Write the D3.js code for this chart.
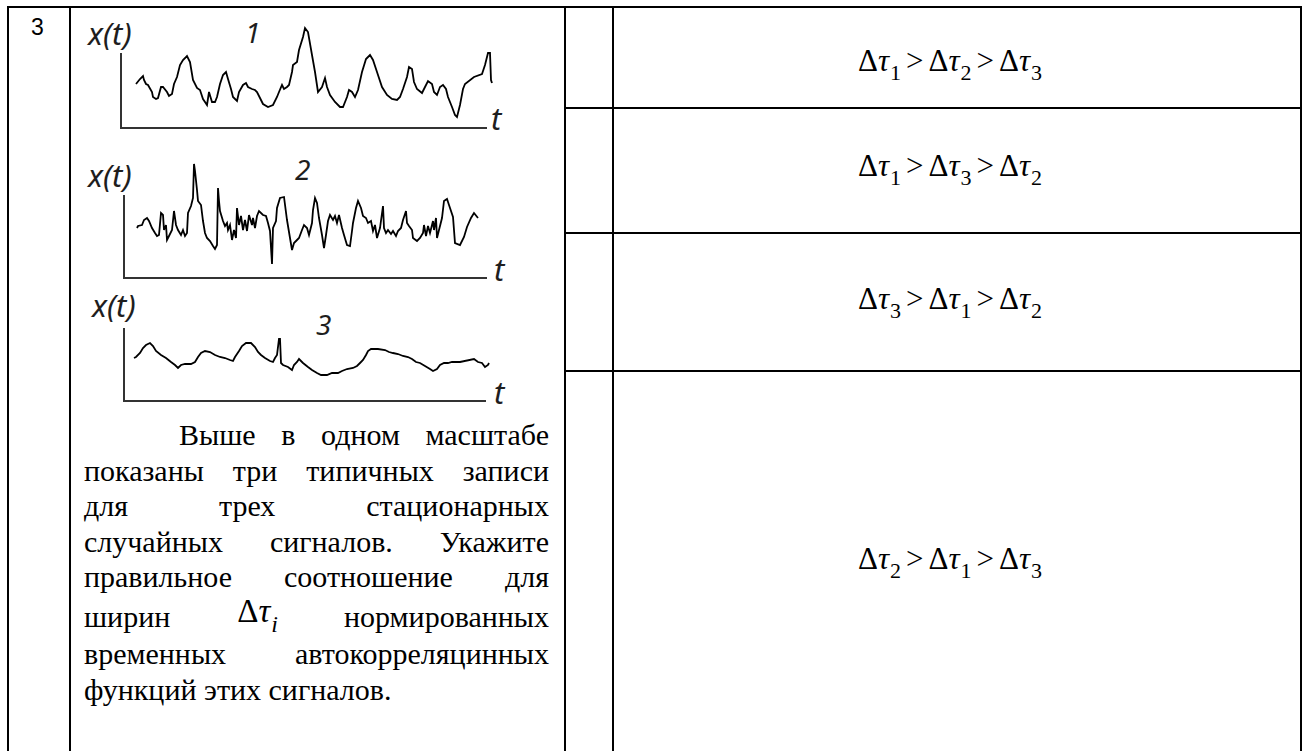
<!DOCTYPE html>
<meta charset="utf-8">
<style>
body { margin: 0; background: #fff; }
.grid line { stroke: #000; stroke-width: 2px; }
.axis line { stroke: #333; stroke-width: 2px; }
.signal { fill: none; stroke: #000; stroke-width: 1.8px; stroke-linejoin: miter; }
.lbl { font-family: "Noto Sans", "Open Sans", sans-serif; font-style: italic; fill: #1e1e1e; }
.serif { font-family: "Liberation Serif", "Times New Roman", serif; fill: #000; }
</style>

<svg width="1303" height="751"></svg>

<script src="https://d3js.org/d3.v7.min.js"></script>
<script>

// signal records: [t, x(t)]
var signal1 = [[15,44],[19,49],[22,52],[23,48],[25,44],[27,43],[31,36],[32,31],[35,29],[37,30],[40,41],[42,41],[46,36],[48,32],[51,34],[53,44],[56,51],[59,63],[62,68],[66,72],[69,66],[72,48],[76,40],[79,38],[82,29],[84,26],[86,23],[88,36],[91,26],[94,26],[96,31],[99,44],[102,53],[105,56],[107,49],[110,39],[112,31],[116,27],[118,36],[122,43],[125,45],[127,41],[131,39],[134,38],[136,36],[139,30],[142,24],[147,21],[152,23],[156,31],[158,36],[161,43],[163,39],[166,41],[168,43],[171,56],[172,63],[176,66],[178,78],[182,91],[184,100],[187,96],[191,73],[194,56],[197,36],[201,41],[204,50],[206,41],[209,33],[214,26],[219,21],[222,21],[226,31],[228,38],[231,36],[234,31],[237,38],[241,56],[245,69],[249,73],[252,68],[256,56],[261,41],[266,33],[271,29],[276,28],[279,31],[282,39],[286,51],[288,61],[291,59],[293,46],[296,39],[301,35],[304,41],[307,47],[311,44],[313,36],[316,33],[319,41],[322,43],[325,39],[327,31],[331,21],[334,13],[336,11],[339,23],[342,39],[344,44],[353,51],[361,54],[364,63],[367,75],[369,75],[370,48],[371,45]];

var signal2 = [[13,50],[14,52],[18,53],[20,58],[23,60],[25,57],[28,50],[31,45],[33,42],[35,43],[37,65],[39,63],[40,48],[42,53],[43,38],[45,42],[48,48],[50,67],[52,53],[54,48],[57,43],[59,48],[61,42],[63,45],[64,65],[67,72],[69,80],[70,114],[71,107],[73,88],[74,77],[77,73],[79,57],[81,45],[83,40],[86,37],[89,32],[91,29],[93,33],[94,90],[95,77],[96,67],[99,57],[101,52],[103,55],[104,48],[106,53],[108,38],[110,48],[112,40],[113,70],[115,53],[117,62],[119,48],[121,58],[123,47],[125,63],[128,53],[129,60],[131,50],[133,62],[135,67],[139,63],[142,62],[144,55],[146,47],[148,14],[149,50],[152,57],[153,70],[156,80],[160,81],[163,58],[166,40],[168,28],[170,35],[173,38],[175,40],[178,48],[180,53],[183,50],[185,43],[188,55],[189,68],[191,80],[193,75],[195,60],[198,43],[200,30],[202,43],[204,57],[206,63],[209,58],[211,62],[213,55],[215,63],[218,50],[220,43],[223,33],[226,32],[228,47],[229,55],[232,70],[234,77],[237,70],[239,62],[242,60],[244,55],[247,57],[249,47],[251,53],[253,40],[256,50],[259,72],[260,50],[262,45],[264,48],[267,44],[269,47],[272,42],[274,47],[277,50],[279,58],[282,67],[283,55],[285,52],[288,48],[289,40],[293,37],[296,40],[299,45],[300,53],[302,42],[304,52],[306,45],[309,57],[310,48],[312,60],[313,40],[315,48],[318,60],[320,77],[323,79],[325,73],[329,61],[331,35],[336,33],[340,41],[343,51],[347,60],[350,65],[354,60]];

var signal3 = [[10,43],[12,44],[16,48],[19,53],[22,56],[26,58],[29,55],[32,50],[37,46],[42,43],[47,39],[51,36],[54,33],[57,36],[61,37],[67,37],[71,39],[74,44],[77,48],[81,50],[86,49],[91,46],[96,44],[101,43],[106,41],[109,40],[111,44],[115,50],[118,55],[122,58],[127,58],[131,54],[134,49],[137,46],[141,43],[146,40],[149,39],[151,43],[153,46],[155,62],[156,62],[157,38],[159,36],[164,34],[168,31],[170,36],[173,39],[175,42],[179,38],[184,34],[188,31],[193,28],[197,26],[203,26],[208,28],[214,28],[218,30],[223,32],[229,33],[233,35],[236,38],[239,41],[242,46],[244,50],[247,52],[254,52],[261,51],[265,49],[269,48],[274,47],[279,45],[284,44],[288,42],[292,39],[296,38],[301,35],[306,32],[309,30],[313,32],[316,36],[320,38],[324,38],[328,39],[333,39],[336,39],[350,42],[354,39],[358,38],[361,34],[364,36],[365,38]];

var signalNames = ["1", "2", "3"];

// answer options: order of the indices in each inequality
var answers = [[1, 2, 3], [1, 3, 2], [3, 1, 2], [2, 1, 3]];

var questionNo = "3";
var questionLines = [
  "Выше в одном масштабе",
  "показаны три типичных записи",
  "для трех стационарных",
  "случайных сигналов. Укажите",
  "правильное соотношение для",
  "ширин {dt} нормированных",
  "временных автокорреляцинных",
  "функций этих сигналов."
];

var svg = d3.select("svg"),
    width = +svg.attr("width"),
    height = +svg.attr("height");

// ---- table grid
var colX = [8, 70, 565, 613, 1301];
var rowY = [7, 108, 233, 371];

var grid = svg.append("g").attr("class", "grid");
grid.append("line").attr("x1", colX[0]).attr("x2", colX[4]).attr("y1", rowY[0]).attr("y2", rowY[0]);
colX.forEach(function(x) {
  grid.append("line").attr("x1", x).attr("x2", x).attr("y1", rowY[0] - 1).attr("y2", height);
});
rowY.slice(1).forEach(function(y) {
  grid.append("line").attr("x1", colX[2]).attr("x2", colX[4]).attr("y1", y).attr("y2", y);
});

svg.append("text")
    .attr("x", 31).attr("y", 35)
    .attr("font-family", "Liberation Sans, Arial, sans-serif")
    .attr("font-size", 23)
    .text(questionNo);

// ---- three signal panels, same scale
var t = d3.scaleLinear().domain([0, 366]).range([0, 366]);
var xv = d3.scaleLinear().domain([0, 75]).range([0, -75]);

var line = d3.line()
    .x(function(d) { return t(d[0]); })
    .y(function(d) { return xv(d[1]); });

var panels = [
  {data: signal1, ox: 121, oy: 128, top: 53,  axEnd: 487, lx: 88, ly: 45,  nx: 245, ny: 43,  tx: 491, ty: 130},
  {data: signal2, ox: 124, oy: 278, top: 195, axEnd: 487, lx: 88, ly: 187, nx: 295, ny: 180, tx: 494, ty: 281},
  {data: signal3, ox: 124, oy: 401, top: 328, axEnd: 486, lx: 92, ly: 317, nx: 316, ny: 335, tx: 494, ty: 404}
];

panels.forEach(function(p, i) {
  var g = svg.append("g").attr("transform", "translate(" + p.ox + "," + p.oy + ")");
  var ax = g.append("g").attr("class", "axis");
  ax.append("line").attr("x1", 0).attr("x2", 0).attr("y1", p.top - p.oy).attr("y2", 1);
  ax.append("line").attr("x1", -1).attr("x2", p.axEnd - p.ox).attr("y1", 0).attr("y2", 0);

  g.append("path").attr("class", "signal").attr("d", line(p.data));

  svg.append("text").attr("class", "lbl").attr("x", p.lx).attr("y", p.ly)
      .attr("font-size", 31).text("x(t)");
  svg.append("text").attr("class", "lbl").attr("x", p.nx).attr("y", p.ny)
      .attr("font-size", 28).text(signalNames[i]);
  svg.append("text").attr("class", "lbl").attr("x", p.tx).attr("y", p.ty)
      .attr("font-size", 31).text("t");
});

// ---- question text, justified like the source document
var textLeft = 84, textRight = 549, indentX = 179;
var baselines = [445, 480.5, 516, 551.5, 587, 627, 663.5, 700];
var pSize = 30;

var para = svg.append("g").attr("class", "serif").attr("font-size", pSize);

// Δτ with a lowered index, MathType style
function deltaTau(sel, idx, size, italicIdx) {
  sel.append("tspan").text("\u0394");
  sel.append("tspan").attr("font-style", "italic").text("\u03c4");
  sel.append("tspan").attr("font-size", Math.round(size * 0.72))
      .attr("font-style", italicIdx ? "italic" : "normal")
      .attr("dx", 1).attr("dy", size * 0.3).text(idx);
}

questionLines.forEach(function(ln, i) {
  var words = ln.split(" ");
  var left = i === 0 ? indentX : textLeft;
  var els = words.map(function(w) {
    var el = para.append("text").attr("y", baselines[i] - (w === "{dt}" ? 5 : 0));
    if (w === "{dt}") deltaTau(el.attr("font-size", 33), "i", 33, true);
    else el.text(w);
    return el;
  });
  var widths = els.map(function(e) { return e.node().getComputedTextLength(); });
  var total = d3.sum(widths);
  var last = i === questionLines.length - 1;
  var gap = last ? 7.5 : (textRight - left - total) / (words.length - 1);
  var x = left;
  els.forEach(function(e, k) {
    e.attr("x", x);
    x += widths[k] + gap;
  });
});

// ---- answer options
var fSize = 31;
var formulaX = 858;
var formulaBase = [71, 176, 309, 569];

answers.forEach(function(order, r) {
  var el = svg.append("text").attr("class", "serif")
      .attr("x", formulaX).attr("y", formulaBase[r])
      .attr("font-size", fSize);
  order.forEach(function(k, j) {
    if (j > 0) {
      el.append("tspan").attr("dy", -fSize * 0.3).attr("dx", 5).text(">");
      el.append("tspan").attr("dx", 5).text("\u0394");
    } else {
      el.append("tspan").text("\u0394");
    }
    el.append("tspan").attr("font-style", "italic").text("\u03c4");
    el.append("tspan").attr("font-size", Math.round(fSize * 0.72))
        .attr("dx", 1).attr("dy", fSize * 0.3).text(k);
  });
});

</script>
